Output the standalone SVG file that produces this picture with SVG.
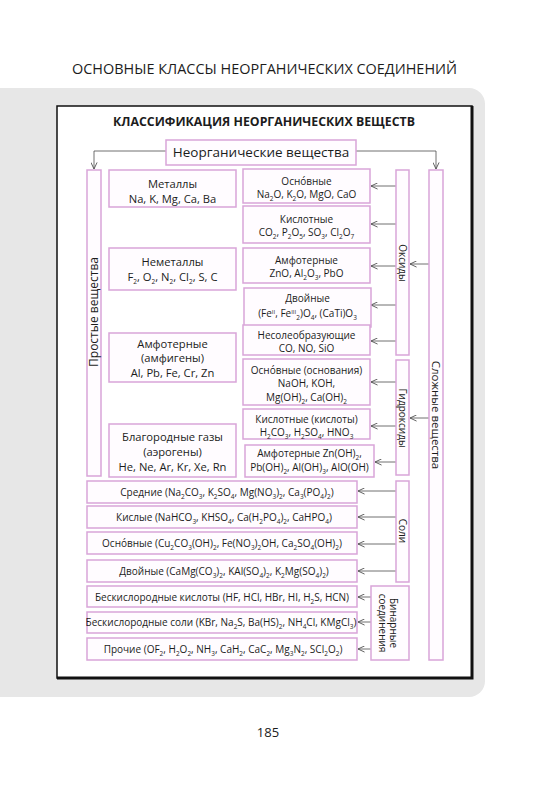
<svg xmlns="http://www.w3.org/2000/svg" width="552" height="800" viewBox="0 0 552 800">
<style>
text{font-family:"Open Sans","Noto Sans",sans-serif;fill:#1c1c1c}
.m{font-size:10px;text-anchor:middle}
.L{font-size:11.2px;text-anchor:middle}
.v{font-size:10px;text-anchor:middle}
.s{font-size:6.5px;baseline-shift:-2.5px}
.p{font-size:6px;baseline-shift:3px}
.box{fill:#fffcff;stroke:#d9a5d9;stroke-width:1.5}
.ar{stroke:#4d4d4d;stroke-width:0.8;fill:none;marker-end:url(#ah)}
</style>
<defs>
<marker id="ah" viewBox="0 0 8 8" refX="7.5" refY="4" markerWidth="7" markerHeight="7" orient="auto" markerUnits="userSpaceOnUse">
<path d="M0,0.5 L7.5,4 L0,7.5" fill="none" stroke="#4d4d4d" stroke-width="1"/>
</marker>
</defs>
<rect width="552" height="800" fill="#ffffff"/>
<text x="72" y="74" font-size="14.5" textLength="385" lengthAdjust="spacingAndGlyphs">ОСНОВНЫЕ КЛАССЫ НЕОРГАНИЧЕСКИХ СОЕДИНЕНИЙ</text>
<rect x="-20" y="88" width="505" height="609" rx="16" fill="#e7e7e7"/>
<rect x="57" y="106" width="415" height="572" fill="#ffffff" stroke="#111" stroke-width="1.5"/>
<path d="M472,106 V678 H57" fill="none" stroke="#111" stroke-width="3"/>
<text x="113" y="126" font-size="11.5" font-weight="bold" textLength="302" lengthAdjust="spacingAndGlyphs">КЛАССИФИКАЦИЯ НЕОРГАНИЧЕСКИХ ВЕЩЕСТВ</text>

<g id="connectors">
<path class="ar" d="M166,151 H94 V169"/>
<path class="ar" d="M356,151 H436 V169"/>
<path class="ar" d="M429,264 H410"/>
<path class="ar" d="M429,418 H410"/>
<path class="ar" d="M396,186 H371"/>
<path class="ar" d="M396,224 H371"/>
<path class="ar" d="M396,266 H371"/>
<path class="ar" d="M396,305 H371"/>
<path class="ar" d="M396,341 H371"/>
<path class="ar" d="M396,382 H371"/>
<path class="ar" d="M396,426 H371"/>
<path class="ar" d="M396,462 H375"/>
<path class="ar" d="M396,491 H358"/>
<path class="ar" d="M396,517 H358"/>
<path class="ar" d="M396,544 H358"/>
<path class="ar" d="M396,571 H358"/>
<path class="ar" d="M371,597 H358"/>
<path class="ar" d="M371,622 H358"/>
<path class="ar" d="M371,649 H358"/>
</g>

<g id="root">
<rect class="box" x="166" y="140" width="190" height="25"/>
<text x="261" y="157" font-size="13.5" text-anchor="middle">Неорганические вещества</text>
</g>

<g id="simple">
<rect class="box" x="87" y="170" width="14" height="306"/>
<text class="v" transform="translate(94,312) rotate(-90)" y="4.2" style="font-size:12px">Простые вещества</text>
</g>
<g id="complex">
<rect class="box" x="429" y="170" width="14" height="490"/>
<text class="v" transform="translate(436,415) rotate(90)" y="4" style="font-size:11.5px">Сложные вещества</text>
</g>
<g id="oxides">
<rect class="box" x="396" y="170" width="13" height="185"/>
<text class="v" transform="translate(402.5,263) rotate(90)" y="3.5">Оксиды</text>
</g>
<g id="hydroxides">
<rect class="box" x="396" y="360" width="13" height="115"/>
<text class="v" transform="translate(402.5,418) rotate(90)" y="3.5">Гидроксиды</text>
</g>
<g id="salts">
<rect class="box" x="396" y="481" width="13" height="101"/>
<text class="v" transform="translate(402.5,531) rotate(90)" y="3.5">Соли</text>
</g>
<g id="binary">
<rect class="box" x="371" y="586" width="38" height="74"/>
<text class="v" transform="translate(393,623) rotate(90)" y="3.5">Бинарные</text>
<text class="v" transform="translate(382,623) rotate(90)" y="3.5">соединения</text>
</g>

<g id="metals">
<rect class="box" x="109" y="170" width="127" height="37"/>
<text class="L" x="172.5" y="188">Металлы</text>
<text class="L" x="172.5" y="203">Na, K, Mg, Ca, Ba</text>
</g>
<g id="nonmetals">
<rect class="box" x="109" y="248" width="127" height="42"/>
<text class="L" x="172.5" y="266">Неметаллы</text>
<text class="L" x="172.5" y="281">F<tspan class="s">2</tspan>, O<tspan class="s">2</tspan>, N<tspan class="s">2</tspan>, Cl<tspan class="s">2</tspan>, S, C</text>
</g>
<g id="amphigens">
<rect class="box" x="109" y="333" width="127" height="49"/>
<text class="L" x="172.5" y="348">Амфотерные</text>
<text class="L" x="172.5" y="362">(амфигены)</text>
<text class="L" x="172.5" y="377">Al, Pb, Fe, Cr, Zn</text>
</g>
<g id="noble">
<rect class="box" x="109" y="424" width="127" height="53"/>
<text class="L" x="172.5" y="441">Благородные газы</text>
<text class="L" x="172.5" y="456">(аэрогены)</text>
<text class="L" x="172.5" y="471">He, Ne, Ar, Kr, Xe, Rn</text>
</g>

<g id="ox-basic">
<rect class="box" x="243" y="169" width="127" height="34"/>
<text class="m" x="306.5" y="185">Осно́вные</text>
<text class="m" x="306.5" y="198">Na<tspan class="s">2</tspan>O, K<tspan class="s">2</tspan>O, MgO, CaO</text>
</g>
<g id="ox-acid">
<rect class="box" x="243" y="206" width="127" height="37"/>
<text class="m" x="306.5" y="223">Кислотные</text>
<text class="m" x="306.5" y="236">CO<tspan class="s">2</tspan>, P<tspan class="s">2</tspan>O<tspan class="s">5</tspan>, SO<tspan class="s">3</tspan>, Cl<tspan class="s">2</tspan>O<tspan class="s">7</tspan></text>
</g>
<g id="ox-amph">
<rect class="box" x="243" y="248" width="127" height="35"/>
<text class="m" x="306.5" y="264">Амфотерные</text>
<text class="m" x="306.5" y="277">ZnO, Al<tspan class="s">2</tspan>O<tspan class="s">3</tspan>, PbO</text>
</g>
<g id="ox-double">
<rect class="box" x="244" y="288" width="127" height="39"/>
<text class="m" x="307.5" y="302">Двойные</text>
<text class="m" x="307.5" y="317">(Fe<tspan class="p">II</tspan>, Fe<tspan class="p">III</tspan><tspan class="s">2</tspan>)O<tspan class="s">4</tspan>, (CaTi)O<tspan class="s">3</tspan></text>
</g>
<g id="ox-nonsalt">
<rect class="box" x="243" y="325" width="127" height="30"/>
<text class="m" x="306.5" y="339">Несолеобразующие</text>
<text class="m" x="306.5" y="352">CO, NO, SiO</text>
</g>

<g id="hy-basic">
<rect class="box" x="243" y="359" width="127" height="46"/>
<text class="m" x="306.5" y="373.5">Осно́вные (основания)</text>
<text class="m" x="306.5" y="387">NaOH, KOH,</text>
<text class="m" x="306.5" y="401">Mg(OH)<tspan class="s">2</tspan>, Ca(OH)<tspan class="s">2</tspan></text>
</g>
<g id="hy-acid">
<rect class="box" x="243" y="409" width="127" height="30"/>
<text class="m" x="306.5" y="423">Кислотные (кислоты)</text>
<text class="m" x="306.5" y="436">H<tspan class="s">2</tspan>CO<tspan class="s">3</tspan>, H<tspan class="s">2</tspan>SO<tspan class="s">4</tspan>, HNO<tspan class="s">3</tspan></text>
</g>
<g id="hy-amph">
<rect class="box" x="245" y="445" width="129" height="32"/>
<text class="m" x="309.5" y="457">Амфотерные Zn(OH)<tspan class="s">2</tspan>,</text>
<text class="m" x="309.5" y="471">Pb(OH)<tspan class="s">2</tspan>, Al(OH)<tspan class="s">3</tspan>, AlO(OH)</text>
</g>

<g id="salt-normal">
<rect class="box" x="87" y="481" width="270" height="22"/>
<text class="m" x="227" y="496">Средние (Na<tspan class="s">2</tspan>CO<tspan class="s">3</tspan>, K<tspan class="s">2</tspan>SO<tspan class="s">4</tspan>, Mg(NO<tspan class="s">3</tspan>)<tspan class="s">2</tspan>, Ca<tspan class="s">3</tspan>(PO<tspan class="s">4</tspan>)<tspan class="s">2</tspan>)</text>
</g>
<g id="salt-acid">
<rect class="box" x="87" y="506" width="270" height="22"/>
<text class="m" x="224" y="521">Кислые (NaHCO<tspan class="s">3</tspan>, KHSO<tspan class="s">4</tspan>, Ca(H<tspan class="s">2</tspan>PO<tspan class="s">4</tspan>)<tspan class="s">2</tspan>, CaHPO<tspan class="s">4</tspan>)</text>
</g>
<g id="salt-basic">
<rect class="box" x="87" y="532" width="270" height="22"/>
<text class="m" x="222" y="547">Осно́вные (Cu<tspan class="s">2</tspan>CO<tspan class="s">3</tspan>(OH)<tspan class="s">2</tspan>, Fe(NO<tspan class="s">3</tspan>)<tspan class="s">2</tspan>OH, Ca<tspan class="s">2</tspan>SO<tspan class="s">4</tspan>(OH)<tspan class="s">2</tspan>)</text>
</g>
<g id="salt-double">
<rect class="box" x="87" y="560" width="270" height="22"/>
<text class="m" x="224" y="575">Двойные (CaMg(CO<tspan class="s">3</tspan>)<tspan class="s">2</tspan>, KAl(SO<tspan class="s">4</tspan>)<tspan class="s">2</tspan>, K<tspan class="s">2</tspan>Mg(SO<tspan class="s">4</tspan>)<tspan class="s">2</tspan>)</text>
</g>
<g id="bin-acid">
<rect class="box" x="87" y="586" width="270" height="21"/>
<text class="m" x="222" y="601">Бескислородные кислоты (HF, HCl, HBr, HI, H<tspan class="s">2</tspan>S, HCN)</text>
</g>
<g id="bin-salt">
<rect class="box" x="87" y="612" width="270" height="21"/>
<text class="m" x="221" y="626">Бескислородные соли (KBr, Na<tspan class="s">2</tspan>S, Ba(HS)<tspan class="s">2</tspan>, NH<tspan class="s">4</tspan>Cl, KMgCl<tspan class="s">3</tspan>)</text>
</g>
<g id="bin-other">
<rect class="box" x="87" y="638" width="270" height="22"/>
<text class="m" x="223" y="653">Прочие (OF<tspan class="s">2</tspan>, H<tspan class="s">2</tspan>O<tspan class="s">2</tspan>, NH<tspan class="s">3</tspan>, CaH<tspan class="s">2</tspan>, CaC<tspan class="s">2</tspan>, Mg<tspan class="s">3</tspan>N<tspan class="s">2</tspan>, SCl<tspan class="s">2</tspan>O<tspan class="s">2</tspan>)</text>
</g>

<text x="268" y="737" font-size="13" text-anchor="middle">185</text>
</svg>
